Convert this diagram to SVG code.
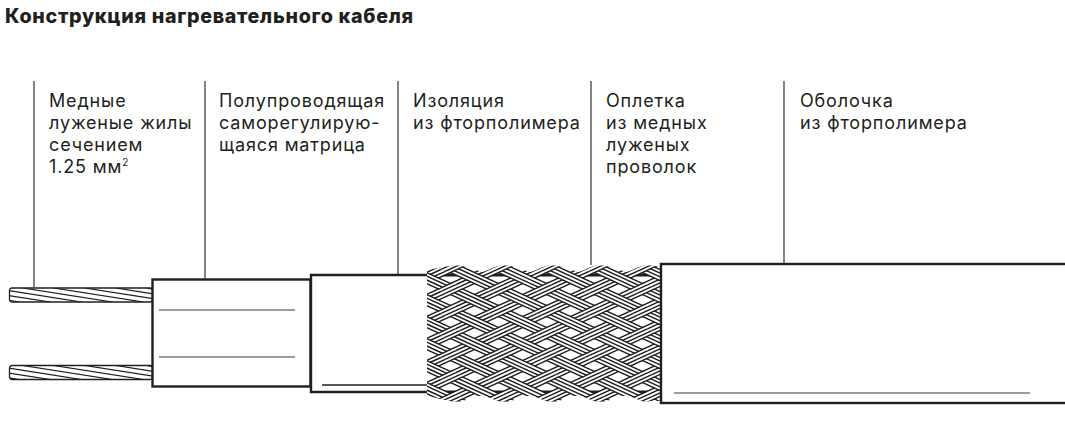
<svg xmlns="http://www.w3.org/2000/svg" width="1065" height="437" viewBox="0 0 1065 437">
<style>
text{font-family:"Inter","Noto Sans",sans-serif;fill:#221f20}
.t{font-size:18px;letter-spacing:.85px}
.h{font-size:19.7px;font-weight:800}
.lead{stroke:#333;stroke-width:1.2;fill:none}
.body{fill:#fff;stroke:#231f20;stroke-width:2.4}
.thin{stroke:#3a3a3a;stroke-width:1.2;fill:none}
.st{stroke:#1c1a1b;stroke-width:1.4;fill:none}
.sw{stroke:#1c1a1b;stroke-width:1.25;fill:none}
</style>
<defs>
<g id="bd"><polygon points="-300,-143.100 300,131.900 300,143.100 -300,-131.900" fill="#fff"/><g class="st"><line x1="-300" y1="-143" x2="300" y2="132"/><line x1="-300" y1="-139.400" x2="300" y2="135.600"/><line x1="-300" y1="-135.600" x2="300" y2="139.400"/><line x1="-300" y1="-132" x2="300" y2="143"/></g></g>
<g id="bu"><use href="#bd" transform="scale(1,-1)"/></g>
<clipPath id="dia"><polygon points="-14.500,0 0,-6.700 14.500,0 0,6.700"/></clipPath>
<g id="over"><g clip-path="url(#dia)"><use href="#bu"/></g></g>
<g id="ocol"><use href="#over" y="0"/><use href="#over" y="22"/><use href="#over" y="44"/><use href="#over" y="66"/><use href="#over" y="88"/><use href="#over" y="110"/><use href="#over" y="132"/></g>
<clipPath id="sil"><path d="M427 270 L450 266 Q458 264.500 466 267 L483 272 L498 266 Q506 264.500 514 267 L531 272 L546 266 Q554 264.500 562 267 L579 272 L594 266 Q602 264.500 610 267 L627 272 L642 266 Q650 264.500 662 267 L662 401 L650 401 Q646 402 642 401 L627 395 L610 400 Q602 402.500 594 401 L579 395 L562 400 Q554 402.500 546 401 L531 395 L514 400 Q506 402.500 498 401 L483 395 L466 400 Q458 402.500 450 401 L427 396 Z"/></clipPath>
<clipPath id="wclip"><rect x="0" y="0" width="143" height="14" rx="2.500"/></clipPath>
<g id="wire"><rect width="143" height="14" rx="2.500" fill="#fff"/><g clip-path="url(#wclip)" class="sw"><path d="M-80 0 L10 14"/><path d="M-49 0 L41 14"/><path d="M-18 0 L72 14"/><path d="M13 0 L103 14"/><path d="M44 0 L134 14"/><path d="M75 0 L165 14"/><path d="M106 0 L196 14"/><path d="M137 0 L227 14"/></g><rect width="143" height="14" rx="2.500" fill="none" stroke="#231f20" stroke-width="1.3"/></g>
</defs>
<text class="h" x="5" y="23" textLength="408">Конструкция нагревательного кабеля</text>
<g id="connectors">
<line class="lead" x1="34" y1="81" x2="34" y2="287"/>
<line class="lead" x1="205" y1="81" x2="205" y2="279"/>
<line class="lead" x1="398" y1="81" x2="398" y2="275"/>
<line class="lead" x1="591" y1="81" x2="591" y2="265"/>
<line class="lead" x1="784" y1="81" x2="784" y2="264"/>
</g>
<g id="label-copper"><text class="t" x="49" y="107">Медные</text><text class="t" x="49" y="129">луженые жилы</text><text class="t" x="49" y="151">сечением</text><text class="t" x="49" y="173">1.25 мм<tspan font-size="10" dy="-7">2</tspan></text></g>
<g id="label-matrix"><text class="t" x="219" y="107">Полупроводящая</text><text class="t" x="219" y="129">саморегулирую-</text><text class="t" x="219" y="151">щаяся матрица</text></g>
<g id="label-insulation"><text class="t" x="413" y="107">Изоляция</text><text class="t" x="413" y="129">из фторполимера</text></g>
<g id="label-braid"><text class="t" x="606" y="107">Оплетка</text><text class="t" x="606" y="129">из медных</text><text class="t" x="606" y="151">луженых</text><text class="t" x="606" y="173">проволок</text></g>
<g id="label-sheath"><text class="t" x="800" y="107">Оболочка</text><text class="t" x="800" y="129">из фторполимера</text></g>
<g id="wires">
<use href="#wire" x="9.500" y="288"/>
<use href="#wire" x="9.500" y="365.500"/>
</g>
<g id="matrix">
<rect class="body" x="152.500" y="279.500" width="158" height="107"/>
<line class="thin" x1="159" y1="310" x2="295" y2="310"/>
<line class="thin" x1="159" y1="357" x2="295" y2="357"/>
</g>
<g id="insulation">
<path class="body" d="M430 275 H311 V392 H430"/>
<line x1="322" y1="385" x2="430" y2="385" stroke="#231f20" stroke-width="1.4"/>
</g>
<g id="braid-layer">
<rect x="436" y="273.500" width="226" height="3" fill="#231f20"/>
<rect x="436" y="390.500" width="226" height="3" fill="#231f20"/>
<g clip-path="url(#sil)">
<g transform="translate(450.500,289)">
<g id="ups"><use href="#bu" y="-220"/><use href="#bu" y="-198"/><use href="#bu" y="-176"/><use href="#bu" y="-154"/><use href="#bu" y="-132"/><use href="#bu" y="-110"/><use href="#bu" y="-88"/><use href="#bu" y="-66"/><use href="#bu" y="-44"/><use href="#bu" y="-22"/><use href="#bu" y="0"/><use href="#bu" y="22"/><use href="#bu" y="44"/><use href="#bu" y="66"/><use href="#bu" y="88"/><use href="#bu" y="110"/><use href="#bu" y="132"/><use href="#bu" y="154"/><use href="#bu" y="176"/><use href="#bu" y="198"/><use href="#bu" y="220"/><use href="#bu" y="242"/></g>
<g id="downs"><use href="#bd" y="-220"/><use href="#bd" y="-198"/><use href="#bd" y="-176"/><use href="#bd" y="-154"/><use href="#bd" y="-132"/><use href="#bd" y="-110"/><use href="#bd" y="-88"/><use href="#bd" y="-66"/><use href="#bd" y="-44"/><use href="#bd" y="-22"/><use href="#bd" y="0"/><use href="#bd" y="22"/><use href="#bd" y="44"/><use href="#bd" y="66"/><use href="#bd" y="88"/><use href="#bd" y="110"/><use href="#bd" y="132"/><use href="#bd" y="154"/><use href="#bd" y="176"/><use href="#bd" y="198"/><use href="#bd" y="220"/><use href="#bd" y="242"/></g>
<use href="#ocol" x="0" y="-22"/><use href="#ocol" x="48" y="-22"/><use href="#ocol" x="96" y="-22"/><use href="#ocol" x="144" y="-22"/><use href="#ocol" x="192" y="-22"/>
</g>
</g>
</g>
<g id="sheath">
<rect x="661" y="264" width="410" height="139" fill="#fff" stroke="#231f20" stroke-width="2.4"/>
<line class="thin" x1="674" y1="393" x2="1030" y2="393"/>
</g>
</svg>
